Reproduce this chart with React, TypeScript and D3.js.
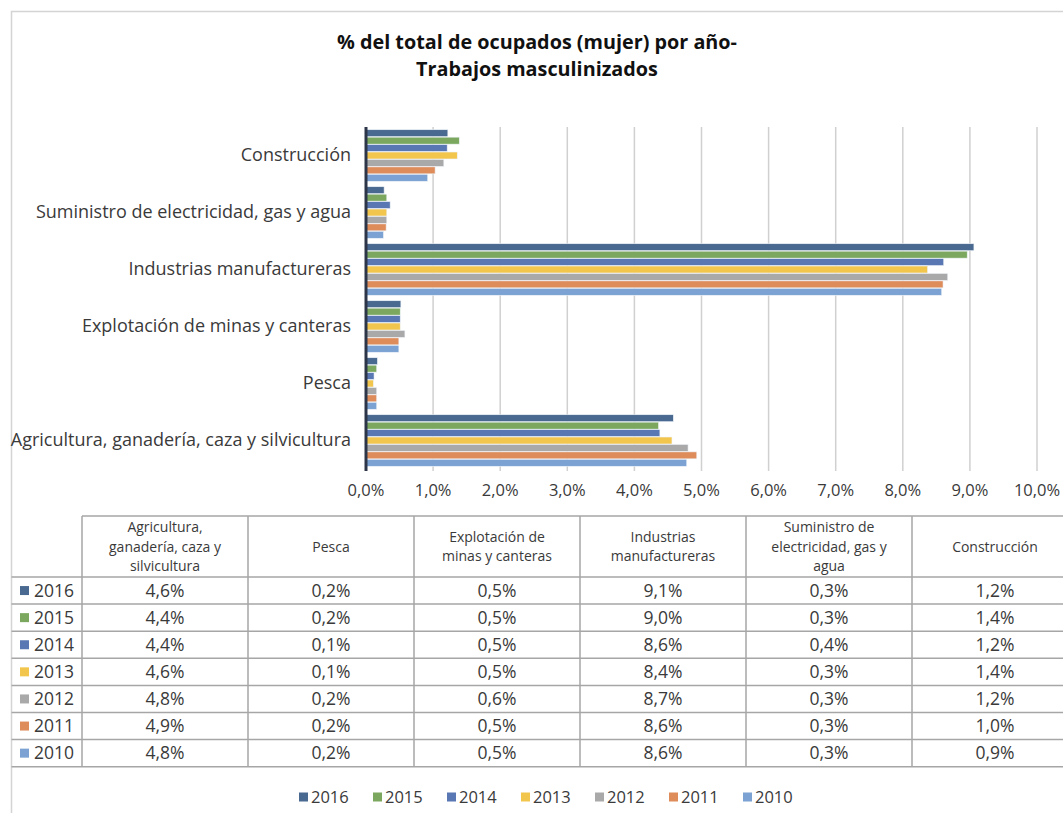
import React from "react";
import * as d3 from "d3";

const categories = [
  "Agricultura, ganadería, caza y silvicultura",
  "Pesca",
  "Explotación de minas y canteras",
  "Industrias manufactureras",
  "Suministro de electricidad, gas y agua",
  "Construcción",
];
const headerLines = [
  ["Agricultura,", "ganadería, caza y", "silvicultura"],
  ["Pesca"],
  ["Explotación de", "minas y canteras"],
  ["Industrias", "manufactureras"],
  ["Suministro de", "electricidad, gas y", "agua"],
  ["Construcción"],
];
const years = ["2016", "2015", "2014", "2013", "2012", "2011", "2010"];
const v2016 = [4.58, 0.17, 0.52, 9.06, 0.27, 1.22];
const v2015 = [4.36, 0.16, 0.51, 8.96, 0.31, 1.39];
const v2014 = [4.38, 0.12, 0.51, 8.61, 0.36, 1.21];
const v2013 = [4.56, 0.11, 0.51, 8.37, 0.31, 1.36];
const v2012 = [4.8, 0.16, 0.58, 8.67, 0.31, 1.16];
const v2011 = [4.93, 0.16, 0.49, 8.6, 0.3, 1.03];
const v2010 = [4.78, 0.16, 0.49, 8.58, 0.26, 0.92];
const seriesValues = [v2016, v2015, v2014, v2013, v2012, v2011, v2010];
const colors = ["#4a6990", "#7ba85e", "#5877b3", "#f2c64c", "#a9a9a9", "#df8c5b", "#7ba2d2"];
const xTicks = [0, 1, 2, 3, 4, 5, 6, 7, 8, 9, 10];

const FONT = "'Open Sans', sans-serif";
const TXT = "#3a3a3a";

export default function App() {
  const W = 1063, H = 813;
  const x = d3.scaleLinear().domain([0, 10]).range([366, 1037]);
  const chartOrder = [...categories].reverse();
  const y0 = d3.scaleBand().domain(chartOrder).range([127, 469]).paddingInner(0.08).paddingOuter(0.04);
  const y1 = d3.scaleBand().domain(years).range([0, y0.bandwidth()]).padding(0.06);
  const fmt = (v: number) => v.toFixed(1).replace(".", ",") + "%";

  const colX = d3.range(7).map((i) => 82 + i * 166);
  const headTop = 516, headBot = 577, rowH = 27.1;
  const rowY = (i: number) => headBot + i * rowH;

  return (
    <svg width={W} height={H} style={{ position: "absolute", left: 0, top: 0, background: "#fff" }} fontFamily={FONT}>
      <rect x={11.5} y={11.5} width={W} height={H} fill="#fff" stroke="#d4d4d4" strokeWidth={1.5} />
      <text x={537} y={49} textAnchor="middle" fontWeight="bold" fontSize={19.8} fill="#111">
        % del total de ocupados (mujer) por año-
      </text>
      <text x={537} y={76} textAnchor="middle" fontWeight="bold" fontSize={19.8} fill="#111">
        Trabajos masculinizados
      </text>

      {xTicks.map((t) => (
        <g key={t}>
          {t > 0 && <line x1={x(t)} x2={x(t)} y1={127} y2={471} stroke="#d0d0d0" strokeWidth={1.5} />}
          <text x={x(t)} y={496} textAnchor="middle" fontSize={16.5} fill={TXT}>
            {t.toFixed(1).replace(".", ",") + "%"}
          </text>
        </g>
      ))}

      {chartOrder.map((cat) => {
        const ci = categories.indexOf(cat);
        return (
          <g key={cat} transform={`translate(0,${y0(cat)})`}>
            {years.map((yr, si) => (
              <rect
                key={yr}
                x={x(0)}
                y={y1(yr)}
                width={x(seriesValues[si][ci]) - x(0)}
                height={y1.bandwidth()}
                fill={colors[si]}
                stroke="#eef3f8"
                strokeWidth={0.6}
              />
            ))}
            <text x={351} y={y0.bandwidth() / 2 + 6} textAnchor="end" fontSize={18} fill={TXT}>
              {cat}
            </text>
          </g>
        );
      })}
      <line x1={x(0)} x2={x(0)} y1={127} y2={471} stroke="#2c3648" strokeWidth={3} />

      {/* Table */}
      <g stroke="#a6a6a6" strokeWidth={1.5}>
        <line x1={colX[0]} x2={W} y1={headTop} y2={headTop} />
        {colX.map((cx) => (
          <line key={cx} x1={cx} x2={cx} y1={headTop} y2={rowY(7)} />
        ))}
        {d3.range(8).map((i) => (
          <line key={i} x1={11.5} x2={W} y1={rowY(i)} y2={rowY(i)} />
        ))}
      </g>
      {headerLines.map((lines, ci) => {
        const cx = colX[ci] + 83;
        const cy = (headTop + headBot) / 2;
        const lh = 19.2;
        return (
          <text key={ci} textAnchor="middle" fontSize={14} fill={TXT}>
            {lines.map((l, li) => (
              <tspan key={li} x={cx} y={cy + (li - (lines.length - 1) / 2) * lh + 5}>
                {l}
              </tspan>
            ))}
          </text>
        );
      })}
      {years.map((yr, si) => (
        <g key={yr}>
          <rect x={20} y={rowY(si) + rowH / 2 - 4.5} width={9} height={9} fill={colors[si]} />
          <text x={34} y={rowY(si) + rowH / 2 + 6} fontSize={17.5} fill={TXT}>
            {yr}
          </text>
          {seriesValues[si].map((v, ci) => (
            <text key={ci} x={colX[ci] + 83} y={rowY(si) + rowH / 2 + 6} textAnchor="middle" fontSize={17.5} fill={TXT}>
              {fmt(v)}
            </text>
          ))}
        </g>
      ))}

      {/* Legend */}
      {years.map((yr, si) => (
        <g key={yr} transform={`translate(${299 + si * 74},797)`}>
          <rect x={0} y={-4.5} width={9} height={9} fill={colors[si]} />
          <text x={12} y={6} fontSize={16.5} fill={TXT}>
            {yr}
          </text>
        </g>
      ))}
    </svg>
  );
}
